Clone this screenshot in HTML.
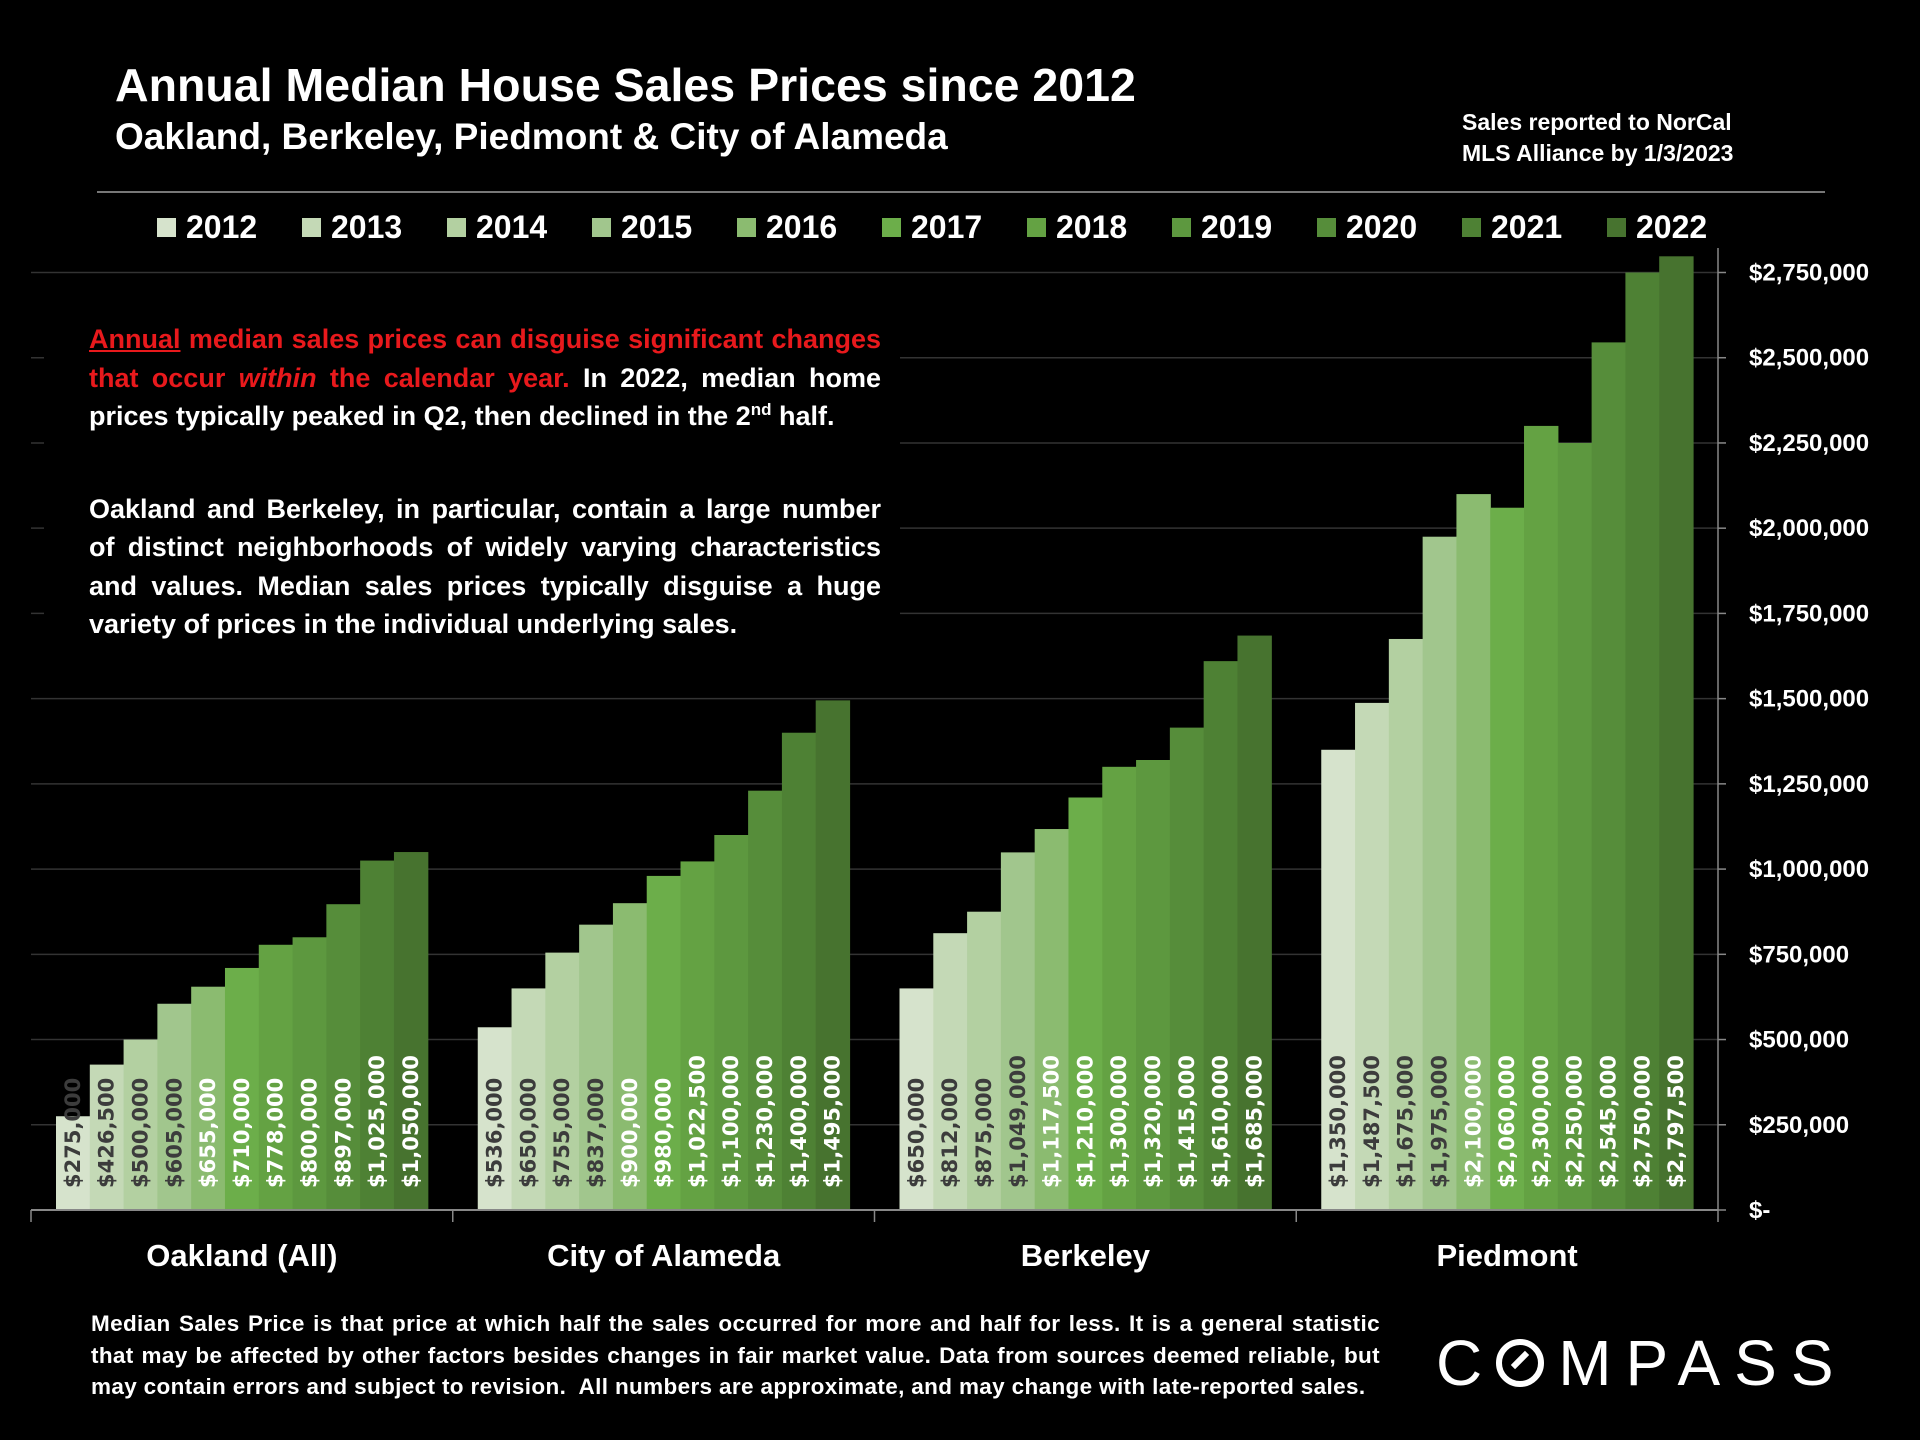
<!DOCTYPE html>
<html><head><meta charset="utf-8"><style>
html,body{margin:0;padding:0;background:#000;}
body{width:1920px;height:1440px;overflow:hidden;position:relative;font-family:"Liberation Sans",sans-serif;color:#fff;}
.abs{position:absolute;}
</style></head><body>
<div class="abs" style="left:115px;top:58px;font-size:46.5px;font-weight:bold;">Annual Median House Sales Prices since 2012</div>
<div class="abs" style="left:115px;top:116px;font-size:37px;font-weight:bold;">Oakland, Berkeley, Piedmont &amp; City of Alameda</div>
<div class="abs" style="left:1462px;top:107px;font-size:23px;font-weight:bold;line-height:31px;">Sales reported to NorCal<br>MLS Alliance by 1/3/2023</div>
<div class="abs" style="left:97px;top:191px;width:1728px;height:2px;background:#777;"></div>
<svg class="abs" style="left:0;top:0" width="1920" height="1440" id="chart"></svg>
<div class="abs" style="left:44px;top:296px;width:856px;height:370px;background:#000;"></div>
<div class="abs" style="left:89px;top:320px;width:792px;font-size:27px;font-weight:bold;line-height:38.5px;text-align:justify;">
<div><span style="color:#e8191c"><u>Annual</u> median sales prices can disguise significant changes that occur <i>within</i> the calendar year.</span> In 2022, median home prices typically peaked in Q2, then declined in the 2<sup style="font-size:17px;line-height:0">nd</sup> half.</div>
<div style="margin-top:54px;">Oakland and Berkeley, in particular, contain a large number of distinct neighborhoods of widely varying characteristics and values. Median sales prices typically disguise a huge variety of prices in the individual underlying sales.</div>
</div>
<div class="abs" style="left:91px;top:1308px;width:1289px;font-size:22.5px;font-weight:bold;line-height:31.5px;text-align:justify;letter-spacing:0.35px;">Median Sales Price is that price at which half the sales occurred for more and half for less. It is a general statistic that may be affected by other factors besides changes in fair market value. Data from sources deemed reliable, but may contain errors and subject to revision.&nbsp; All numbers are approximate, and may change with late-reported sales.</div>
<div class="abs" style="left:1436px;top:1326px;font-size:64px;letter-spacing:14px;font-weight:normal;">C<span style="display:inline-block;width:48px;height:48px;border:6px solid #fff;border-radius:50%;position:relative;top:2px;box-sizing:border-box;vertical-align:baseline;margin-right:14px"><span style="position:absolute;left:15px;top:5px;width:6px;height:20px;background:#fff;transform:rotate(45deg);"></span></span>MPASS</div>
<script>
const years=['2012','2013','2014','2015','2016','2017','2018','2019','2020','2021','2022'];
const cities=['Oakland (All)','City of Alameda','Berkeley','Piedmont'];
const oakland=[275000,426500,500000,605000,655000,710000,778000,800000,897000,1025000,1050000];
const alameda=[536000,650000,755000,837000,900000,980000,1022500,1100000,1230000,1400000,1495000];
const berkeley=[650000,812000,875000,1049000,1117500,1210000,1300000,1320000,1415000,1610000,1685000];
const piedmont=[1350000,1487500,1675000,1975000,2100000,2060000,2300000,2250000,2545000,2750000,2797500];
const yTicks=[0,250000,500000,750000,1000000,1250000,1500000,1750000,2000000,2250000,2500000,2750000];
const colors=['#d6e3cc','#c4d9b6','#b3d0a1','#a1c68d','#8bbb70','#6cae4a','#64a243','#5d983f','#568d3a','#4e8134','#47732f'];
const series=[oakland,alameda,berkeley,piedmont];
const NS='http://www.w3.org/2000/svg';
const svg=document.getElementById('chart');
const X0=31,X1=1718,Y0=1210,YMAX=2750000,YTOP=272.5;
const y=v=>Y0-(v/YMAX)*(Y0-YTOP);
const gw=(X1-X0)/cities.length, gap=25, bw=(gw-2*gap)/years.length;
const x=(g,i)=>X0+g*gw+gap+i*bw;
function mk(t,a){const e=document.createElementNS(NS,t);for(const k in a)e.setAttribute(k,a[k]);svg.appendChild(e);return e;}
const fmt=v=>'$'+v.toLocaleString('en-US');
yTicks.forEach(v=>{
  if(v>0){const l=mk('line',{x1:X0,x2:X1,y1:y(v),y2:y(v),stroke:'#333','stroke-width':1.5});
  
  }
  const tk=mk('line',{x1:X1,x2:X1+8,y1:y(v),y2:y(v),stroke:'#888','stroke-width':1.5});
  
  
  const t=mk('text',{x:1749,y:y(v)+8,fill:'#fff','font-size':24,'font-weight':'bold','font-family':'Liberation Sans, sans-serif'});
  t.textContent=v===0?'$-':fmt(v);
  
  
});
series.forEach((arr,g)=>{
  arr.forEach((v,i)=>{
    const r=mk('rect',{x:x(g,i),y:y(v),width:bw+0.6,height:Y0-y(v),fill:colors[i]});
    
    
  });
  arr.forEach((v,i)=>{
    const cx=x(g,i)+bw/2, by=Y0-22;
    const t=mk('text',{x:0,y:0,transform:`translate(${cx},${by}) rotate(-90)`,'dominant-baseline':'central',fill:i<4?'#3c3c3c':'#fff','font-size':21,'font-weight':'bold','font-family':'DejaVu Sans, sans-serif'});
    t.textContent=fmt(v);
    
    
  });
  const c=mk('text',{x:X0+g*gw+gw/2,y:1266,'text-anchor':'middle',fill:'#fff','font-size':31,'font-weight':'bold','font-family':'Liberation Sans, sans-serif'});
  c.textContent=cities[g];
  
  
});
const ax=mk('line',{x1:X0,x2:X1,y1:Y0,y2:Y0,stroke:'#888','stroke-width':2});


const ay=mk('line',{x1:X1,x2:X1,y1:248,y2:Y0,stroke:'#888','stroke-width':1.5});


for(let g=0;g<=cities.length;g++){
  const l=mk('line',{x1:X0+g*gw,x2:X0+g*gw,y1:Y0,y2:Y0+12,stroke:'#888','stroke-width':1.5});
  
  
}
years.forEach((yr,i)=>{
  const lx=157+i*145;
  const r=mk('rect',{x:lx,y:218,width:19,height:19,fill:colors[i]});
  
  
  const t=mk('text',{x:lx+29,y:238,fill:'#fff','font-size':32,'font-weight':'bold','font-family':'Liberation Sans, sans-serif'});
  t.textContent=yr;
  
  
});
</script>
</body></html>
